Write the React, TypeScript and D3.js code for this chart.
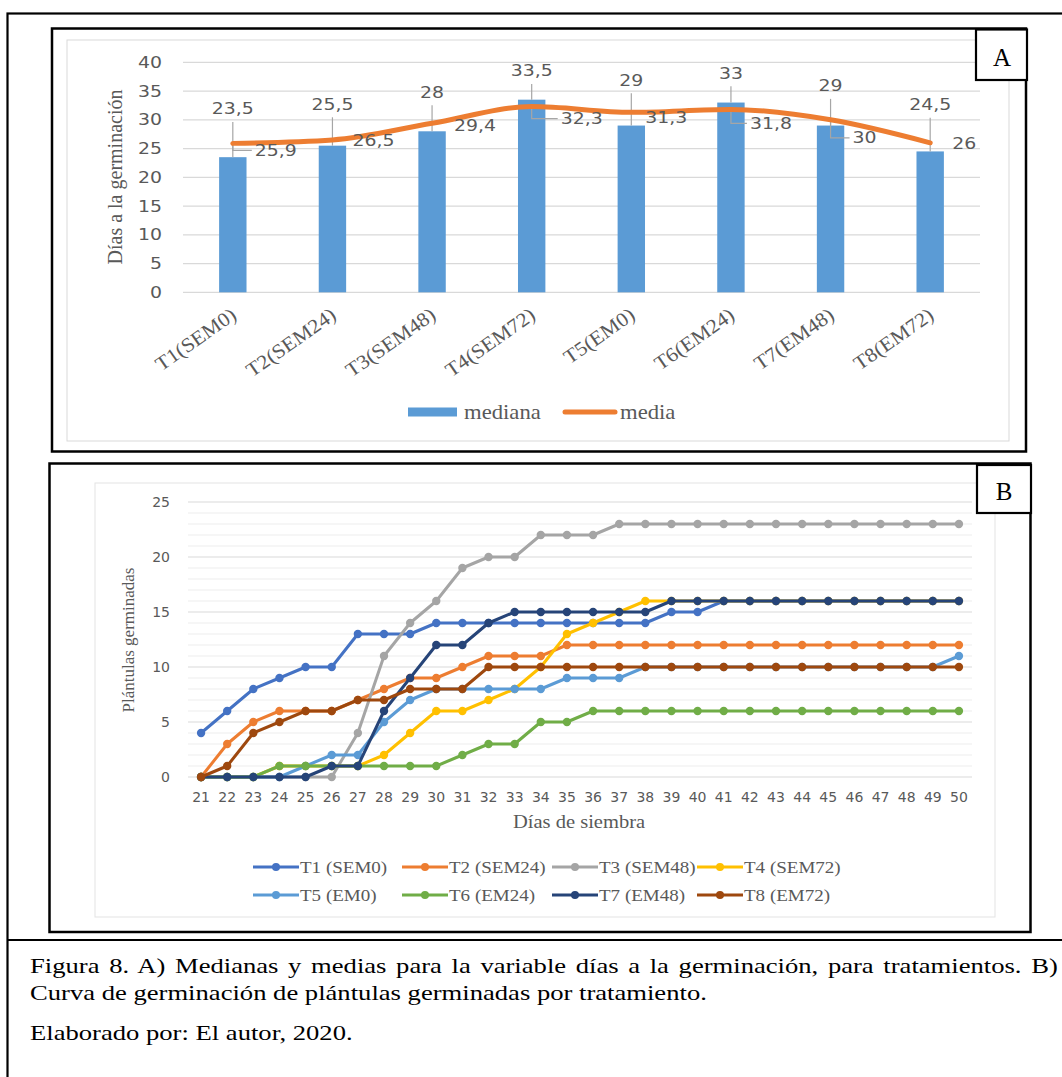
import React, { useLayoutEffect, useRef, useState } from 'react';
import * as d3 from 'd3';

// ---- panel A data ----
const treatments = ['T1(SEM0)', 'T2(SEM24)', 'T3(SEM48)', 'T4(SEM72)', 'T5(EM0)', 'T6(EM24)', 'T7(EM48)', 'T8(EM72)'];
const medians = [23.5, 25.5, 28, 33.5, 29, 33, 29, 24.5];
const means = [25.9, 26.5, 29.4, 32.3, 31.3, 31.8, 30, 26];
const ticksA = [0, 5, 10, 15, 20, 25, 30, 35, 40];

// where the data labels were dragged to (median label in value units, mean label nudges in px)
const medianLabelAt = [31.9, 32.7, 34.8, 38.5, 36.9, 38.1, 35.9, 32.6];
const meanLabelDx = [22, 20, 22, 29, 14, 19, 22, 22];
const meanLabelDy = [7, 1, 2, 12, 5, 14, 18, 1];

// ---- panel B data ----
const days = [21, 22, 23, 24, 25, 26, 27, 28, 29, 30, 31, 32, 33, 34, 35, 36, 37, 38, 39, 40, 41, 42, 43, 44, 45, 46, 47, 48, 49, 50];
const seriesNames = ['T1 (SEM0)', 'T2 (SEM24)', 'T3 (SEM48)', 'T4 (SEM72)', 'T5 (EM0)', 'T6 (EM24)', 'T7 (EM48)', 'T8 (EM72)'];
const seriesColors = ['#4472C4', '#ED7D31', '#A5A5A5', '#FFC000', '#5B9BD5', '#70AD47', '#264478', '#9E480E'];
const t1 = [4, 6, 8, 9, 10, 10, 13, 13, 13, 14, 14, 14, 14, 14, 14, 14, 14, 14, 15, 15, 16, 16, 16, 16, 16, 16, 16, 16, 16, 16];
const t2 = [0, 3, 5, 6, 6, 6, 7, 8, 9, 9, 10, 11, 11, 11, 12, 12, 12, 12, 12, 12, 12, 12, 12, 12, 12, 12, 12, 12, 12, 12];
const t3 = [0, 0, 0, 0, 0, 0, 4, 11, 14, 16, 19, 20, 20, 22, 22, 22, 23, 23, 23, 23, 23, 23, 23, 23, 23, 23, 23, 23, 23, 23];
const t4 = [0, 0, 0, 1, 1, 1, 1, 2, 4, 6, 6, 7, 8, 10, 13, 14, 15, 16, 16, 16, 16, 16, 16, 16, 16, 16, 16, 16, 16, 16];
const t5 = [0, 0, 0, 0, 1, 2, 2, 5, 7, 8, 8, 8, 8, 8, 9, 9, 9, 10, 10, 10, 10, 10, 10, 10, 10, 10, 10, 10, 10, 11];
const t6 = [0, 0, 0, 1, 1, 1, 1, 1, 1, 1, 2, 3, 3, 5, 5, 6, 6, 6, 6, 6, 6, 6, 6, 6, 6, 6, 6, 6, 6, 6];
const t7 = [0, 0, 0, 0, 0, 1, 1, 6, 9, 12, 12, 14, 15, 15, 15, 15, 15, 15, 16, 16, 16, 16, 16, 16, 16, 16, 16, 16, 16, 16];
const t8 = [0, 1, 4, 5, 6, 6, 7, 7, 8, 8, 8, 10, 10, 10, 10, 10, 10, 10, 10, 10, 10, 10, 10, 10, 10, 10, 10, 10, 10, 10];
const series = [t1, t2, t3, t4, t5, t6, t7, t8];
const ticksB = [0, 5, 10, 15, 20, 25];

const captionLines = [
  'Figura 8. A) Medianas y medias para la variable días a la germinación, para tratamientos. B)',
  'Curva de germinación de plántulas germinadas por tratamiento.',
  'Elaborado por: El autor, 2020.',
];

const SANS = "'DejaVu Sans', sans-serif";
const SERIF = "'Liberation Serif', 'Times New Roman', serif";
const GREY = '#595959';

const fmt = (v: number) => String(v).replace('.', ',');

// text that can be stretched sideways like the pasted picture
const Txt = ({ x, y, sx = 1, rot = 0, size, family = SANS, anchor = 'start', fill = GREY, base = 'central', children }: any) => (
  <text
    transform={`translate(${x},${y}) rotate(${rot}) scale(${sx},1)`}
    fontSize={size}
    fontFamily={family}
    textAnchor={anchor}
    dominantBaseline={base}
    fill={fill}
  >
    {children}
  </text>
);

const PanelA = () => {
  const x = d3.scaleBand<string>().domain(treatments).range([183, 980]);
  const y = d3.scaleLinear().domain([0, 40]).range([292.3, 62.3]);
  const cx = (i: number) => (x(treatments[i]) ?? 0) + x.bandwidth() / 2;
  const bw = x.bandwidth() * 0.275;
  const meanPath = d3
    .line<number>()
    .x((_, i) => cx(i))
    .y((d) => y(d))
    .curve(d3.curveMonotoneX)(means);

  return (
    <g>
      <rect x={52} y={28.5} width={974} height={423} fill="#fff" stroke="#000" strokeWidth={2.5} />
      <rect x={67} y={40} width={942} height={401} fill="none" stroke="#d9d9d9" />
      {ticksA.map((t) => (
        <line key={t} x1={183} x2={980} y1={y(t)} y2={y(t)} stroke="#d9d9d9" strokeWidth={1.2} />
      ))}
      {ticksA.map((t) => (
        <Txt key={t} x={162} y={y(t)} sx={1.18} size={16} anchor="end">
          {t}
        </Txt>
      ))}
      <Txt x={115} y={177} rot={-90} size={20} family={SERIF} anchor="middle">
        Días a la germinación
      </Txt>

      {/* mediana bars */}
      {medians.map((m, i) => (
        <rect key={i} x={cx(i) - bw / 2} y={y(m)} width={bw} height={y(0) - y(m)} fill="#5B9BD5" />
      ))}

      {/* leader lines */}
      {medians.map((m, i) => (
        <line key={i} x1={cx(i)} x2={cx(i)} y1={y(medianLabelAt[i]) + 13} y2={y(m)} stroke="#a6a6a6" strokeWidth={1.2} />
      ))}
      {means.map((m, i) =>
        meanLabelDy[i] >= 6 ? (
          <path
            key={i}
            d={`M${cx(i)},${y(m)} V${y(m) + meanLabelDy[i]} H${cx(i) + meanLabelDx[i] - 3}`}
            fill="none"
            stroke="#a6a6a6"
            strokeWidth={1.2}
          />
        ) : null
      )}

      {/* media line */}
      <path d={meanPath ?? ''} fill="none" stroke="#ED7D31" strokeWidth={5} strokeLinecap="round" strokeLinejoin="round" />

      {medians.map((m, i) => (
        <Txt key={i} x={cx(i)} y={y(medianLabelAt[i])} sx={1.18} size={16} anchor="middle">
          {fmt(m)}
        </Txt>
      ))}
      {means.map((m, i) => (
        <Txt key={i} x={cx(i) + meanLabelDx[i]} y={y(m) + meanLabelDy[i]} sx={1.18} size={16}>
          {fmt(m)}
        </Txt>
      ))}

      {treatments.map((t, i) => (
        <Txt key={t} x={cx(i) + 5} y={318} rot={-35} size={20} sx={1.08} family={SERIF} anchor="end" base="alphabetic">
          {t}
        </Txt>
      ))}

      {/* legend */}
      <rect x={408} y={407.5} width={49} height={9} fill="#5B9BD5" />
      <Txt x={464} y={412} size={21} sx={1.08} family={SERIF}>
        mediana
      </Txt>
      <line x1={565} x2={615} y1={412} y2={412} stroke="#ED7D31" strokeWidth={5} strokeLinecap="round" />
      <Txt x={620} y={412} size={21} sx={1.08} family={SERIF}>
        media
      </Txt>

      <rect x={976} y={29.5} width={51} height={50.5} fill="#fff" stroke="#000" strokeWidth={2.2} />
      <Txt x={1002} y={57} size={25} family={SERIF} anchor="middle" fill="#000">
        A
      </Txt>
    </g>
  );
};

const legendCols = [253, 402, 552, 697];
const legendRows = [867, 895];

const PanelB = () => {
  const x = d3.scaleBand<number>().domain(days).range([188, 972]);
  const y = d3.scaleLinear().domain([0, 25]).range([777, 502]);
  const cx = (d: number) => (x(d) ?? 0) + x.bandwidth() / 2;
  const line = d3
    .line<number>()
    .x((_, i) => cx(days[i]))
    .y((d) => y(d));
  const grid = y.ticks(25);

  return (
    <g>
      <rect x={49.5} y={463.5} width={981} height={468.5} fill="#fff" stroke="#000" strokeWidth={2.5} />
      <rect x={95} y={483} width={900} height={434} fill="none" stroke="#e3e3e3" />
      {grid.map((g) => (
        <line
          key={g}
          x1={188}
          x2={972}
          y1={y(g)}
          y2={y(g)}
          stroke={g % 5 === 0 ? '#d9d9d9' : '#ededed'}
          strokeWidth={1.2}
        />
      ))}
      {ticksB.map((t) => (
        <Txt key={t} x={170} y={y(t)} size={14} anchor="end">
          {t}
        </Txt>
      ))}
      {days.map((d) => (
        <Txt key={d} x={cx(d)} y={797} size={14} anchor="middle">
          {d}
        </Txt>
      ))}
      <Txt x={128} y={640} rot={-90} size={17} family={SERIF} anchor="middle">
        Plántulas germinadas
      </Txt>
      <Txt x={579} y={822} size={18} sx={1.14} family={SERIF} anchor="middle">
        Días de siembra
      </Txt>

      {series.map((s, k) => (
        <g key={k}>
          <path d={line(s) ?? ''} fill="none" stroke={seriesColors[k]} strokeWidth={3} strokeLinejoin="round" />
          {s.map((v, i) => (
            <circle key={i} cx={cx(days[i])} cy={y(v)} r={4.2} fill={seriesColors[k]} />
          ))}
        </g>
      ))}

      {seriesNames.map((name, k) => {
        const lx = legendCols[k % 4];
        const ly = legendRows[Math.floor(k / 4)];
        return (
          <g key={name}>
            <line x1={lx} x2={lx + 46} y1={ly} y2={ly} stroke={seriesColors[k]} strokeWidth={3} />
            <circle cx={lx + 23} cy={ly} r={4} fill={seriesColors[k]} />
            <Txt x={lx + 47} y={ly} size={17} sx={1.12} family={SERIF}>
              {name}
            </Txt>
          </g>
        );
      })}

      <rect x={977} y={465} width={54} height={48} fill="#fff" stroke="#000" strokeWidth={2.2} />
      <Txt x={1004} y={491} size={25} family={SERIF} anchor="middle" fill="#000">
        B
      </Txt>
    </g>
  );
};

const captionWidth = [1028, 677];
const captionBase = [972.5, 1000, 1040];

const Caption = () => {
  const r1 = useRef<SVGTextElement>(null);
  const r2 = useRef<SVGTextElement>(null);
  const [fit, setFit] = useState({ sx: 1.24, ws: 0 });

  useLayoutEffect(() => {
    if (!r1.current || !r2.current) return;
    const l2 = r2.current.getComputedTextLength();
    const sx = captionWidth[1] / l2;
    const l1 = r1.current.getComputedTextLength();
    const spaces = captionLines[0].split(' ').length - 1;
    setFit({ sx, ws: (captionWidth[0] / sx - l1) / spaces });
  }, []);

  return (
    <g fontFamily={SERIF} fontSize={20} fill="#000">
      {captionLines.map((t, i) => (
        <text
          key={i}
          ref={i === 0 ? r1 : i === 1 ? r2 : undefined}
          transform={`translate(30,${captionBase[i]}) scale(${fit.sx},1)`}
          style={i === 0 ? { wordSpacing: `${fit.ws}px` } : undefined}
        >
          {t}
        </text>
      ))}
    </g>
  );
};

export default function App() {
  return (
    <svg width={1062} height={1077} style={{ position: 'absolute', left: 0, top: 0, background: '#fff' }}>
      <rect x={7.5} y={13.5} width={1080} height={1090} fill="#fff" stroke="#000" strokeWidth={2.2} />
      <line x1={7.5} x2={1062} y1={940} y2={940} stroke="#000" strokeWidth={2.2} />
      <PanelA />
      <PanelB />
      <Caption />
    </svg>
  );
}
